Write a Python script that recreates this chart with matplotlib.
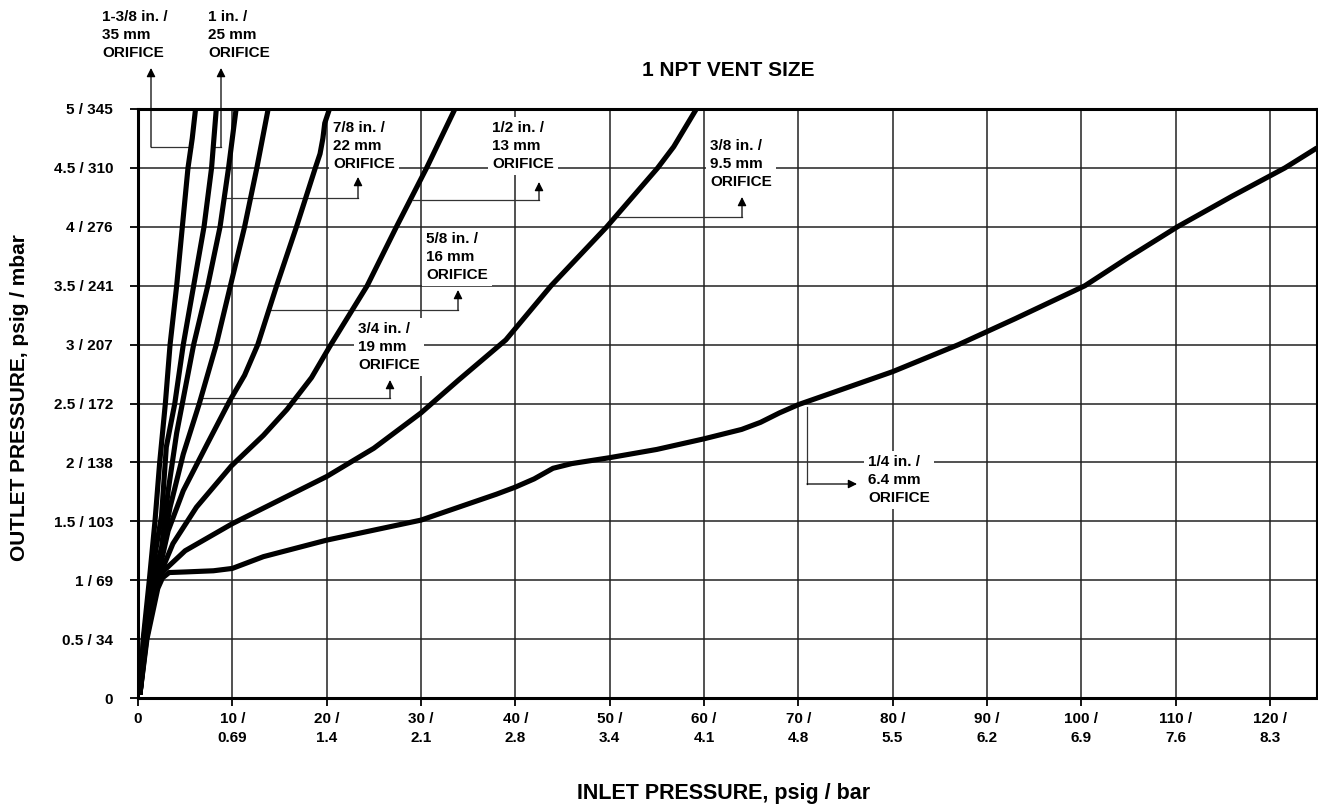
import numpy as np
import matplotlib.pyplot as plt

plt.rcParams['font.family'] = ['Liberation Sans', 'DejaVu Sans']
plt.rcParams['font.weight'] = 'bold'

# inlet pressure (psig) / outlet pressure (psig)
x_1_3_8 = [0.2, 0.55, 1.2, 1.8, 2.3, 2.9, 3.4, 4.1, 4.7, 5.3, 5.75, 6.1]
y_1_3_8 = [0.03, 0.5, 1.0, 1.5, 2.0, 2.5, 3.0, 3.5, 4.0, 4.5, 4.75, 5.0]

x_1 = [0.2, 0.6, 1.35, 2.5, 3.0, 3.9, 4.8, 5.9, 7.0, 7.8, 8.3]
y_1 = [0.03, 0.5, 1.0, 1.55, 2.13, 2.5, 3.0, 3.5, 4.0, 4.5, 5.0]

x_7_8 = [0.2, 0.7, 1.6, 2.5, 3.2, 4.1, 4.7, 5.9, 7.4, 8.7, 9.6, 10.4]
y_7_8 = [0.03, 0.5, 1.0, 1.28, 1.76, 2.25, 2.5, 3.0, 3.5, 4.0, 4.5, 5.0]

x_3_4 = [0.2, 0.75, 1.7, 2.5, 3.4, 4.8, 6.5, 8.3, 9.8, 11.3, 12.6, 13.8]
y_3_4 = [0.03, 0.5, 1.0, 1.23, 1.62, 2.07, 2.5, 3.0, 3.5, 4.0, 4.5, 5.0]

x_5_8 = [0.2, 0.8, 1.8, 2.5, 3.2, 4.8, 7.3, 9.7, 11.3, 12.7, 14.7, 16.8, 18.8, 19.3, 19.6, 19.8, 20.3]
y_5_8 = [0.03, 0.5, 1.0, 1.17, 1.42, 1.76, 2.15, 2.52, 2.74, 3.0, 3.5, 4.0, 4.5, 4.62, 4.75, 4.88, 5.0]

x_1_2 = [0.2, 0.85, 1.9, 2.5, 3.7, 6.2, 9.9, 13.3, 15.8, 18.4, 20.3, 24.3, 27.4, 30.6, 33.6]
y_1_2 = [0.03, 0.5, 0.98, 1.08, 1.31, 1.62, 1.97, 2.23, 2.45, 2.72, 2.98, 3.5, 4.0, 4.5, 5.0]

x_3_8 = [0.2, 0.9, 2.0, 2.6, 5.0, 10.0, 15.0, 20.0, 25.0, 30.0, 34.0, 39.0, 43.8, 49.7, 55.1, 56.8, 59.2]
y_3_8 = [0.03, 0.5, 0.97, 1.07, 1.25, 1.48, 1.68, 1.88, 2.12, 2.42, 2.7, 3.04, 3.5, 4.0, 4.5, 4.68, 5.0]

x_1_4 = [0.2, 0.95, 2.1, 2.6, 3.3, 5.0, 8.0, 10.0, 13.3, 20.0, 30.0, 34.0, 38.0, 40.0, 42.0,
         44.0, 46.0, 50.0, 55.0, 60.0, 62.0, 64.0, 66.0, 68.0, 70.0, 75.0, 80.0, 87.0,
         93.0, 100.4, 105.0, 110.2, 116.0, 121.6, 125.0]
y_1_4 = [0.03, 0.5, 0.93, 1.02, 1.065, 1.07, 1.08, 1.10, 1.2, 1.34, 1.51, 1.62, 1.73, 1.79, 1.86,
         1.95, 1.99, 2.04, 2.11, 2.2, 2.24, 2.28, 2.34, 2.42, 2.49, 2.63, 2.77, 3.0,
         3.22, 3.5, 3.74, 4.0, 4.26, 4.5, 4.67]

x_ticks = [0, 10, 20, 30, 40, 50, 60, 70, 80, 90, 100, 110, 120]
x_bar = ['', '0.69', '1.4', '2.1', '2.8', '3.4', '4.1', '4.8', '5.5', '6.2', '6.9', '7.6', '8.3']
y_ticks = [0, 0.5, 1, 1.5, 2, 2.5, 3, 3.5, 4, 4.5, 5]
y_mbar = ['', '34', '69', '103', '138', '172', '207', '241', '276', '310', '345']

labels = ['1-3/8 in. /\n35 mm\nORIFICE', '1 in. /\n25 mm\nORIFICE', '7/8 in. /\n22 mm\nORIFICE',
          '3/4 in. /\n19 mm\nORIFICE', '5/8 in. /\n16 mm\nORIFICE', '1/2 in. /\n13 mm\nORIFICE',
          '3/8 in. /\n9.5 mm\nORIFICE', '1/4 in. /\n6.4 mm\nORIFICE']

W, H = 1318, 809
fig = plt.figure(figsize=(W / 100, H / 100), dpi=100)
L, R, T, B = 138, 1317, 109, 698
ax = fig.add_axes([L / W, 1 - B / H, (R - L) / W, (B - T) / H])
ax.set_xlim(0, 125)
ax.set_ylim(0, 5)


def px(p, q):
    # pixel position in the picture -> data coordinates (for the callouts)
    return (p - L) / (R - L) * 125, (B - q) / (B - T) * 5


curves = [(x_1_3_8, y_1_3_8), (x_1, y_1), (x_7_8, y_7_8), (x_3_4, y_3_4),
          (x_5_8, y_5_8), (x_1_2, y_1_2), (x_3_8, y_3_8), (x_1_4, y_1_4)]
for cx, cy in curves:
    ax.plot(cx, cy, color='black', lw=3.7, solid_joinstyle='round',
            solid_capstyle='butt', zorder=4)

ax.set_xticks(x_ticks)
ax.set_xticklabels(['0'] + [f'{a} /\n{b}' for a, b in zip(x_ticks[1:], x_bar[1:])])
ax.set_yticks(y_ticks)
ax.set_yticklabels(['0'] + [f'{a:g} / {b}' for a, b in zip(y_ticks[1:], y_mbar[1:])])
ax.tick_params(axis='x', length=6, width=1.3, pad=4, labelsize=11, direction='out')
ax.tick_params(axis='y', length=6, width=1.3, pad=12, labelsize=11, direction='out')
for lab in ax.get_xticklabels() + ax.get_yticklabels():
    lab.set_fontweight('bold')
    lab.set_linespacing(1.45)
ax.grid(True, color='#222222', lw=1.1)
ax.set_axisbelow(True)
for s in ['left', 'bottom', 'top']:
    ax.spines[s].set_linewidth(2.2)
ax.spines['right'].set_linewidth(1.5)

# callouts: polyline in pixels, arrow tip, text anchor (left, top)
callouts = [
    ([(192, 147), (151, 147)], (151, 68), (102, 10)),
    ([(213, 147), (221, 147)], (221, 68), (208, 10)),
    ([(223, 198), (358, 198)], (358, 177), (333, 121)),
    ([(200, 398), (390, 398)], (390, 380), (358, 322)),
    ([(270, 310), (458, 310)], (458, 290), (426, 232)),
    ([(413, 200), (539, 200)], (539, 182), (492, 121)),
    ([(613, 217), (742, 217)], (742, 197), (710, 139)),
    ([(807, 407), (807, 484)], (857, 484), (868, 455)),
]
for (pts, tip, anchor), text in zip(callouts, labels):
    dx = [px(*p) for p in pts]
    ax.plot([d[0] for d in dx], [d[1] for d in dx], color='#333333', lw=0.9,
            zorder=3, clip_on=False)
    ax.annotate('', xy=px(*tip), xytext=dx[-1],
                arrowprops=dict(arrowstyle='-|>', color='black', lw=0.9,
                                mutation_scale=13, shrinkA=0, shrinkB=0),
                zorder=3, annotation_clip=False)
    ax.text(*px(*anchor), text, ha='left', va='top', fontsize=11, fontweight='bold',
            linespacing=1.35, zorder=2.5, clip_on=False,
            bbox=dict(facecolor='white', edgecolor='none', pad=3))

fig.text(728 / W, 1 - 70 / H, '1 NPT VENT SIZE', ha='center', va='center',
         fontsize=15, fontweight='bold')
fig.text(724 / W, 1 - 793 / H, 'INLET PRESSURE, psig / bar', ha='center', va='center',
         fontsize=15.5, fontweight='bold')
fig.text(20 / W, 1 - 398 / H, 'OUTLET PRESSURE, psig / mbar', ha='center', va='center',
         rotation=90, fontsize=15, fontweight='bold')

fig.savefig('out.png', dpi=100)
